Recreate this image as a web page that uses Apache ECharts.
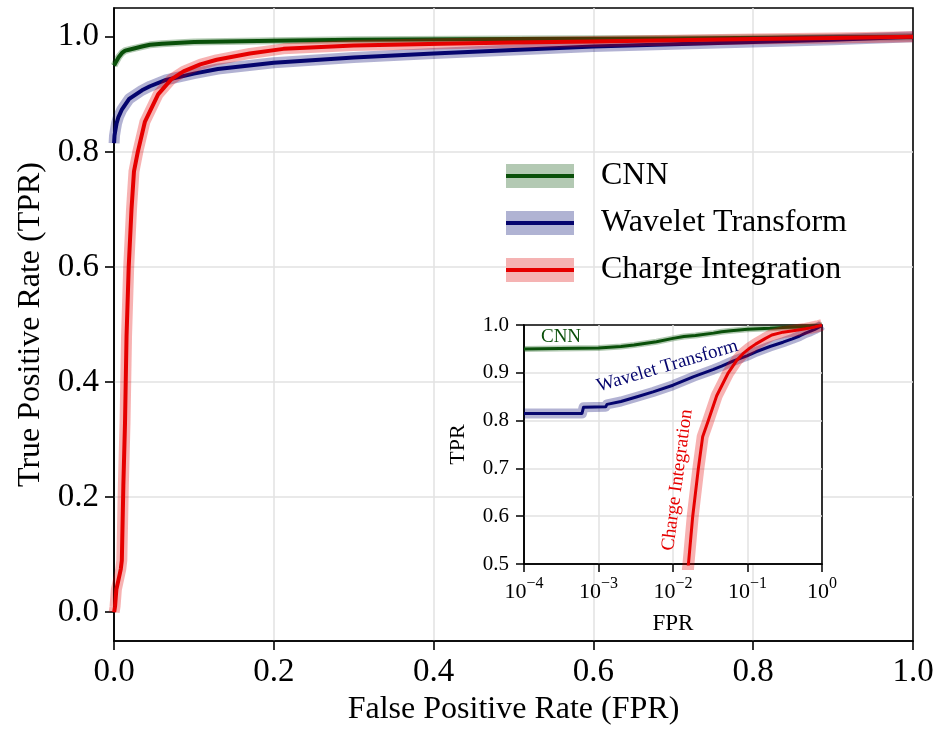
<!DOCTYPE html>
<html><head><meta charset="utf-8">
<script src="https://cdn.jsdelivr.net/npm/echarts@6/dist/echarts.min.js"></script>
<style>html,body{margin:0;padding:0;background:#fff}#c{width:941px;height:729px}</style>
</head><body><div id="c"></div>
<script>
// ---------------- data ----------------
const seriesNames = ['CNN', 'Wavelet Transform', 'Charge Integration'];

const cnnFPR = [1e-4, 3e-4, 1e-3, 2e-3, 3e-3, 6e-3, 0.01, 0.014, 0.02, 0.035, 0.045, 0.06, 0.1, 0.2, 0.3, 0.5, 0.7, 0.9, 1.0];
const cnnTPR = [0.950, 0.951, 0.952, 0.955, 0.958, 0.965, 0.972, 0.976, 0.978, 0.983, 0.986, 0.988, 0.991, 0.993, 0.995, 0.996, 0.997, 0.999, 1.0];

const wtFPR = [1e-4, 6.0e-4, 6.3e-4, 1.25e-3, 1.3e-3, 2e-3, 3.3e-3, 5.4e-3, 0.01, 0.019, 0.035, 0.045, 0.065, 0.1, 0.13, 0.2, 0.3, 0.4, 0.5, 0.6, 0.7, 0.8, 0.9, 1.0];
const wtTPR = [0.815, 0.815, 0.828, 0.829, 0.834, 0.840, 0.850, 0.860, 0.874, 0.892, 0.907, 0.914, 0.925, 0.936, 0.944, 0.955, 0.964, 0.971, 0.977, 0.983, 0.987, 0.991, 0.995, 1.0];

const ciFPR = [2e-4, 0.0013, 0.003, 0.0054, 0.0085, 0.0098, 0.0117, 0.0138, 0.0157, 0.0184, 0.0219, 0.025, 0.0298, 0.0386, 0.0552, 0.0716, 0.087, 0.108, 0.1285, 0.17, 0.212, 0.3, 0.41, 0.5, 0.6, 0.7, 0.8, 0.9, 1.0];
const ciTPR = [0.0, 0.01, 0.04, 0.055, 0.075, 0.09, 0.22, 0.33, 0.48, 0.60, 0.70, 0.766, 0.80, 0.852, 0.90, 0.926, 0.940, 0.952, 0.960, 0.971, 0.979, 0.985, 0.988, 0.990, 0.992, 0.994, 0.996, 0.998, 1.0];

const mainXTicks = [0, 0.2, 0.4, 0.6, 0.8, 1.0];
const mainYTicks = [0, 0.2, 0.4, 0.6, 0.8, 1.0];
const insetXTicks = [1e-4, 1e-3, 1e-2, 1e-1, 1];
const insetYTicks = [0.5, 0.6, 0.7, 0.8, 0.9, 1.0];

// inset annotation anchors (data coords in inset)
const annotations = [
  { text: 'CNN', at: [1.69e-4, 0.975], align: 'left', angle: 0, color: 0 },
  { text: 'Wavelet Transform', at: [8.43e-3, 0.914], align: 'center', angle: 16.4, color: 1 },
  { text: 'Charge Integration', at: [0.01148, 0.6757], align: 'center', angle: 82.5, color: 2 }
];

// ---------------- style ----------------
const FONT = 'Liberation Serif';
const lineColors = ['rgb(10,80,10)', 'rgb(5,5,110)', '#e60000'];
const bandColors = ['rgba(0,80,0,0.3)', 'rgba(0,0,110,0.3)', 'rgba(230,0,0,0.3)'];
const legendBand = ['#b3c9b3', '#b0b3d3', '#f5b3b3'];
const mainBandW = [7, 11, 11];
const insetBandW = [6, 10, 12];
const fprs = [cnnFPR, wtFPR, ciFPR];
const tprs = [cnnTPR, wtTPR, ciTPR];
const pairs = (x, y) => x.map((v, i) => [v, y[i]]);

const series = [];
for (let i = 0; i < 3; i++) {
  const d = pairs(fprs[i], tprs[i]);
  series.push({ type: 'line', name: seriesNames[i] + ' band', xAxisIndex: 0, yAxisIndex: 0, data: d,
    symbol: 'none', silent: true, z: 2, clip: true,
    lineStyle: { color: bandColors[i], width: mainBandW[i], join: 'round' } });
  series.push({ type: 'line', name: seriesNames[i], xAxisIndex: 0, yAxisIndex: 0, data: d,
    symbol: 'none', z: 2, clip: true, itemStyle: { color: lineColors[i] },
    lineStyle: { color: lineColors[i], width: 4, join: 'round' } });
}
for (let i = 0; i < 3; i++) {
  const d = pairs(fprs[i], tprs[i]);
  series.push({ type: 'line', name: seriesNames[i] + ' inset band', xAxisIndex: 1, yAxisIndex: 1, data: d,
    symbol: 'none', silent: true, z: 5, clip: true,
    lineStyle: { color: bandColors[i], width: insetBandW[i], join: 'round' } });
  series.push({ type: 'line', name: seriesNames[i] + ' inset', xAxisIndex: 1, yAxisIndex: 1, data: d,
    symbol: 'none', z: 5, clip: true,
    lineStyle: { color: lineColors[i], width: 3, join: 'round' } });
}

const gridLine = { show: true, showMinLine: false, showMaxLine: false, lineStyle: { color: '#e2e2e2', width: 1.5 } };
const blackAxis = { show: true, onZero: false, lineStyle: { color: '#000', width: 1.6 } };

const chart = echarts.init(document.getElementById('c'), null, { renderer: 'canvas' });
chart.setOption({
  animation: false,
  backgroundColor: '#fff',
  textStyle: { fontFamily: FONT },
  grid: [
    { left: 114, top: 8, width: 799, height: 633, outerBoundsMode: 'none', containLabel: false, show: true, z: 0, backgroundColor: 'transparent', borderColor: '#000', borderWidth: 1.6 },
    { left: 524, top: 325, width: 298, height: 239, outerBoundsMode: 'none', containLabel: false, show: true, z: 3, backgroundColor: '#fff', borderColor: '#000', borderWidth: 1.6 }
  ],
  xAxis: [
    { type: 'value', gridIndex: 0, min: 0, max: 1, interval: 0.2, z: 0,
      axisLine: blackAxis,
      axisTick: { show: true, length: 9, lineStyle: { color: '#000', width: 1.6 }, customValues: mainXTicks },
      axisLabel: { customValues: mainXTicks, margin: 15, fontSize: 33, color: '#000', fontFamily: FONT, formatter: v => v.toFixed(1) },
      splitLine: gridLine,
      name: 'False Positive Rate (FPR)', nameLocation: 'middle', nameGap: 52,
      nameTextStyle: { fontSize: 32, color: '#000', fontFamily: FONT } },
    { type: 'log', gridIndex: 1, min: 1e-4, max: 1, logBase: 10, z: 4,
      axisLine: blackAxis,
      axisTick: { show: true, length: 8, lineStyle: { color: '#000', width: 1.5 }, customValues: insetXTicks },
      axisLabel: { customValues: insetXTicks, margin: 12, color: '#000',
        formatter: v => { const e = Math.round(Math.log10(v)); return '{b|10}{s|' + (e < 0 ? '\u2212' + (-e) : e) + '}'; },
        rich: { b: { fontFamily: FONT, fontSize: 22, lineHeight: 27, verticalAlign: 'bottom', color: '#000' },
                s: { fontFamily: FONT, fontSize: 16, lineHeight: 16, verticalAlign: 'top', color: '#000' } } },
      splitLine: gridLine,
      name: 'FPR', nameLocation: 'middle', nameGap: 48,
      nameTextStyle: { fontSize: 23, color: '#000', fontFamily: FONT } }
  ],
  yAxis: [
    { type: 'value', gridIndex: 0, min: -0.05, max: 1.05, z: 0,
      axisLine: blackAxis,
      axisTick: { show: true, length: 9, lineStyle: { color: '#000', width: 1.6 }, customValues: mainYTicks },
      axisLabel: { customValues: mainYTicks, margin: 15, fontSize: 33, color: '#000', fontFamily: FONT, formatter: v => v.toFixed(1) },
      splitLine: gridLine,
      name: 'True Positive Rate (TPR)', nameLocation: 'middle', nameGap: 67,
      nameTextStyle: { fontSize: 32, color: '#000', fontFamily: FONT } },
    { type: 'value', gridIndex: 1, min: 0.5, max: 1.0, interval: 0.1, z: 4,
      axisLine: blackAxis,
      axisTick: { show: true, length: 8, lineStyle: { color: '#000', width: 1.5 } },
      axisLabel: { margin: 15, fontSize: 21, color: '#000', fontFamily: FONT, formatter: v => v.toFixed(1) },
      splitLine: gridLine,
      name: 'TPR', nameLocation: 'middle', nameGap: 55,
      nameTextStyle: { fontSize: 22, color: '#000', fontFamily: FONT } }
  ],
  legend: [
    { data: seriesNames.map((n, i) => ({ name: n, itemStyle: { color: legendBand[i], borderWidth: 0 } })),
      orient: 'vertical', left: 506, top: 160, padding: 0, itemWidth: 68, itemHeight: 24, itemGap: 15,
      icon: 'rect', selectedMode: false, z: 6,
      textStyle: { fontFamily: FONT, fontSize: 32, lineHeight: 32, color: '#000', padding: [0, 0, 0, 22] } },
    { data: seriesNames.map((n, i) => ({ name: n, itemStyle: { color: lineColors[i], borderWidth: 0 } })),
      orient: 'vertical', left: 506, top: 160, padding: 0, itemWidth: 68, itemHeight: 4, itemGap: 15,
      icon: 'rect', selectedMode: false, z: 7,
      textStyle: { fontFamily: FONT, fontSize: 32, lineHeight: 32, color: 'rgba(0,0,0,0)', padding: [0, 0, 0, 22] } }
  ],
  series: series
});

const graphics = annotations.map(a => {
  const p = chart.convertToPixel({ xAxisIndex: 1, yAxisIndex: 1 }, a.at);
  return { type: 'text', x: p[0], y: p[1], rotation: a.angle * Math.PI / 180, z: 20,
    style: { text: a.text, fill: lineColors[a.color], font: '19px "Liberation Serif"', align: a.align, verticalAlign: 'middle' } };
});
chart.setOption({ graphic: graphics });
</script>
</body></html>
